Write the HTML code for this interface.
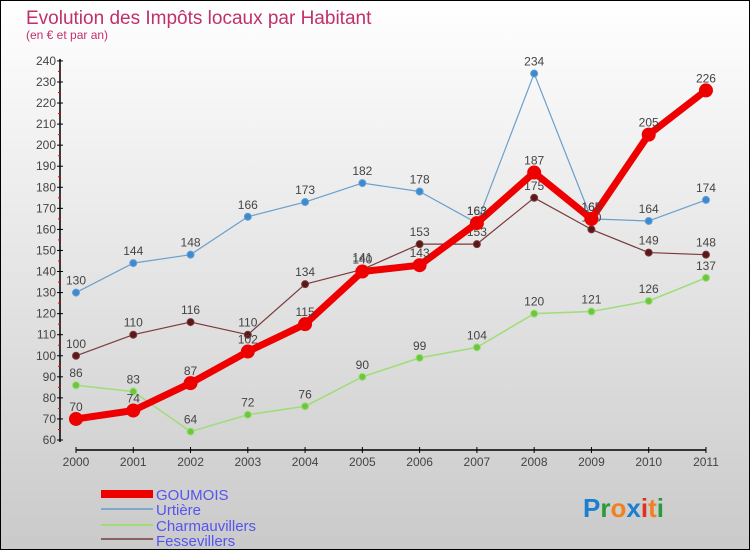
<!DOCTYPE html>
<html><head><meta charset="utf-8"><style>
html,body{margin:0;padding:0}
body{width:750px;height:550px;overflow:hidden;font-family:"Liberation Sans",sans-serif}
#c{position:absolute;left:0;top:0;width:748px;height:548px;border:1px solid #000;background:linear-gradient(#fff,#cacaca)}
</style></head><body>
<div id="c">
<svg id="svg" width="748" height="548" xmlns="http://www.w3.org/2000/svg">
<text x="25" y="23" font-size="19" fill="#c0306a">Evolution des Impôts locaux par Habitant</text>
<text x="25" y="38" font-size="12" fill="#c0306a">(en € et par an)</text>
<g id="axes"></g><g id="series"></g>
<g>
<rect x="100" y="489" width="52" height="8" fill="#e00"/>
<text x="155" y="499" font-size="15" fill="#5555ee">GOUMOIS</text>
<line x1="100" y1="508" x2="152" y2="508" stroke="#7fa8cc" stroke-width="2"/>
<text x="155" y="514" font-size="15" fill="#5555ee">Urtière</text>
<line x1="100" y1="524" x2="152" y2="524" stroke="#9edd77" stroke-width="2"/>
<text x="155" y="530" font-size="15" fill="#5555ee">Charmauvillers</text>
<line x1="100" y1="538" x2="152" y2="538" stroke="#8a6060" stroke-width="2"/>
<text x="155" y="545" font-size="15" fill="#5555ee">Fessevillers</text>
</g>
<g font-size="26" font-weight="bold">
<text x="582" y="516"><tspan fill="#1a7fd0">P</tspan><tspan fill="#2a9a3a">r</tspan><tspan fill="#f08020">o</tspan><tspan fill="#1a7fd0">x</tspan><tspan fill="#e03020">i</tspan><tspan fill="#f08020">t</tspan><tspan fill="#2a9a3a">i</tspan></text>
</g>
</svg></div>
<script>
const years=[2000,2001,2002,2003,2004,2005,2006,2007,2008,2009,2010,2011];
const goumois=[70,74,87,102,115,140,143,163,187,165,205,226];
const urtiere=[130,144,148,166,173,182,178,163,234,165,164,174];
const charmauvillers=[86,83,64,72,76,90,99,104,120,121,126,137];
const fessevillers=[100,110,116,110,134,141,153,153,175,160,149,148];
const yTicks=[60,70,80,90,100,110,120,130,140,150,160,170,180,190,200,210,220,230,240];
const NS="http://www.w3.org/2000/svg";
const xS=i=>75+i*57.27;
const yS=v=>439-(v-60)*2.106;
function mk(tag,attrs,parent){const e=document.createElementNS(NS,tag);for(const k in attrs)e.setAttribute(k,attrs[k]);parent.appendChild(e);return e;}
const ax=document.getElementById('axes');
let a=mk('line',{x1:59,y1:yS(240)-2,x2:59,y2:yS(60)+2,stroke:'#000','stroke-width':1.5},ax);

a=mk('line',{x1:75,y1:449,x2:xS(11),y2:449,stroke:'#000','stroke-width':1.5},ax);

yTicks.forEach(v=>{
 mk('line',{x1:56,y1:yS(v),x2:62,y2:yS(v),stroke:'#000'},ax);
 if(v<240)mk('line',{x1:57,y1:yS(v+5),x2:60,y2:yS(v+5),stroke:'#e00'},ax);
 const t=mk('text',{x:55,y:yS(v)+4,'font-size':12,fill:'#444','text-anchor':'end'},ax);t.textContent=v;
 
});
years.forEach((y,i)=>{
 mk('line',{x1:xS(i),y1:446,x2:xS(i),y2:452,stroke:'#000'},ax);
 const t=mk('text',{x:xS(i),y:465,'font-size':12,fill:'#444','text-anchor':'middle'},ax);t.textContent=y;
 
});
const sg=document.getElementById('series');
function draw(name,vals,color,w,r,dot){
 const g=mk('g',{},sg);
 
 
 mk('polyline',{points:vals.map((v,i)=>xS(i)+','+yS(v)).join(' '),fill:'none',stroke:color,'stroke-width':w,'stroke-linejoin':'round'},g);
 vals.forEach((v,i)=>{
  const c=mk('circle',{cx:xS(i),cy:yS(v),r:r,fill:dot,stroke:color,'stroke-width':1},g);
  
  
  const t=mk('text',{x:xS(i),y:yS(v)-8,'font-size':12,fill:'#444','text-anchor':'middle'},g);t.textContent=v;
  
  
 });
}
draw('urtiere',urtiere,'#6a9fcc',1.2,3.5,'#3a8ad6');
draw('charmauvillers',charmauvillers,'#9edd77',1.5,3.5,'#6cc640');
draw('fessevillers',fessevillers,'#7a3a3a',1.2,3.5,'#5a1818');
draw('goumois',goumois,'#ee0000',7,6.5,'#ee0000');
</script>
</body></html>
